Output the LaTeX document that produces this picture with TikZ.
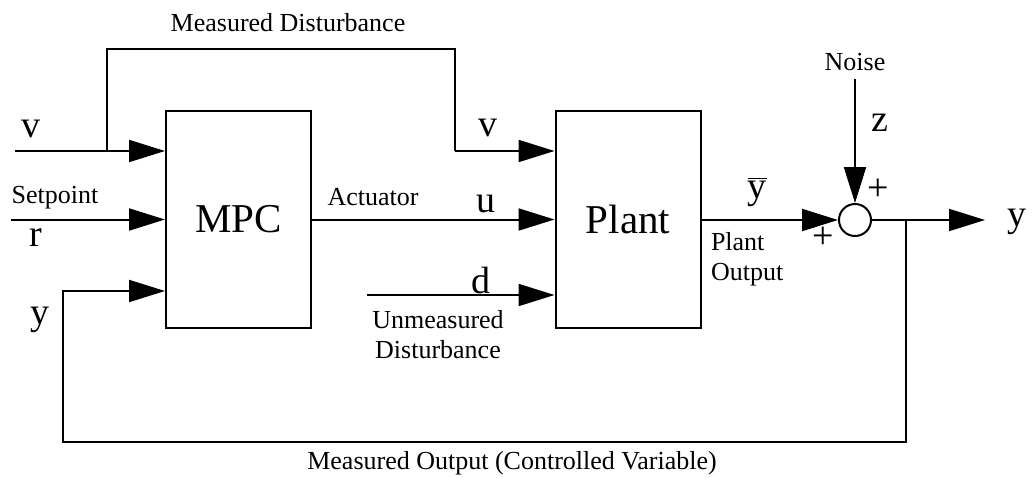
\documentclass[tikz,border=0pt]{standalone}
\usepackage{fontspec}
\setmainfont{Liberation Serif}
\usepackage{tikz}
\usetikzlibrary{positioning, arrows.meta, shapes}

\begin{document}
\begin{tikzpicture}[
    x=0.5pt, y=-0.5pt,
    line width=1pt,
    block/.style={rectangle, draw, minimum width=72.5pt, minimum height=108.5pt, text centered, font=\fontsize{20.5}{22}\selectfont},
    arrow/.style={-{Triangle[length=18pt,width=11pt]}},
    small/.style={font=\fontsize{13}{15}\selectfont, inner sep=0pt},
    sym/.style={font=\fontsize{19}{21}\selectfont, inner sep=0pt}
]
\useasboundingbox (0,0) rectangle (1034,477);
% Blocks
\node (mpc) [block] at (238.5,219.5) {MPC};
\node (plant) [block] at (628,219.5) {Plant};
\node (sum) [circle, draw, minimum size=16pt, inner sep=0pt] at (855,220) {};
% Free ends
\coordinate (vin) at (15,151);
\coordinate (branch) at (107,151);
\coordinate (mdtop) at (455,49);
\coordinate (vplant) at (455,151);
\coordinate (rin) at (11,219.5);
\coordinate (din) at (367,295);
\coordinate (fb) at (63,291);
\coordinate (noise) at (855,79);
\coordinate (yout) at (985,220);
\coordinate (tap) at (906,220);
\coordinate (fbcorner) at (906,442);
% Arrows
\draw [arrow] (vin) -- (mpc.west |- vin);
\draw (branch) |- (mdtop) -- (vplant);
\draw [arrow] (vplant) -- (plant.west |- vplant);
\draw [arrow] (rin) -- (mpc.west |- rin);
\draw [arrow] (mpc.east) -- (plant.west);
\draw [arrow] (din) -- (plant.west |- din);
\draw [arrow] (plant.east |- sum) -- (sum.west);
\draw [arrow] (noise) -- (sum.north);
\draw [arrow] (sum.east) -- (yout);
\draw [arrow] (tap) -- (fbcorner) -| (fb) -- (mpc.west |- fb);
% Labels
\node (mdlabel) [small] at (288,23) {Measured Disturbance};
\node (vlabel) [sym] at (31,129) {v};
\node (vplabel) [sym] at (488,128) {v};
\node (splabel) [small] at (55,198) {Setpoint};
\node (rlabel) [sym] at (36,238) {r};
\node (ylabel) [sym] at (40,320) {y};
\node (actlabel) [small] at (373,197) {Actuator};
\node (ulabel) [sym] at (486,204) {u};
\node (dlabel) [sym] at (481,280) {d};
\node (udlabel) [small, align=center] at (438,335) {Unmeasured\\Disturbance};
\node (ybarlabel) [sym] at (757,192) {\(\overline{\mbox{y}}\)};
\node (polabel) [small, align=left, anchor=north west] at (710,231) {Plant\\Output};
\node (noiselabel) [small] at (855,62) {Noise};
\node (zlabel) [sym] at (880,123) {z};
\node (plustop) [sym] at (878,190) {+};
\node (plusleft) [sym] at (823,238) {+};
\node (youtlabel) [sym] at (1017,222) {y};
\node (molabel) [small] at (512,463) {Measured Output (Controlled Variable)};
\end{tikzpicture}
\end{document}
